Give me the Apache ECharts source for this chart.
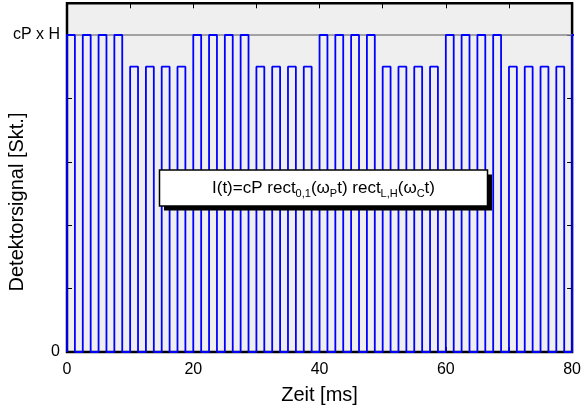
<!DOCTYPE html>
<html>
<head>
<meta charset="utf-8">
<script src="https://cdn.jsdelivr.net/npm/echarts@6/dist/echarts.min.js"></script>
<style>
  html, body { margin: 0; padding: 0; background: #fff; }
  #chart { width: 584px; height: 416px; }
</style>
</head>
<body>
<div id="chart"></div>
<script>
// Start time of every light pulse [ms]
const pulseStart = [
  0, 2.5, 5, 7.5, 10, 12.5, 15, 17.5,
  20, 22.5, 25, 27.5, 30, 32.5, 35, 37.5,
  40, 42.5, 45, 47.5, 50, 52.5, 55, 57.5,
  60, 62.5, 65, 67.5, 70, 72.5, 75, 77.5,
  80
];
// Pulse height in units of cP x H (H = high level, L = low level of the carrier)
const pulseLevel = [
  1, 1, 1, 1, 0.9, 0.9, 0.9, 0.9,
  1, 1, 1, 1, 0.9, 0.9, 0.9, 0.9,
  1, 1, 1, 1, 0.9, 0.9, 0.9, 0.9,
  1, 1, 1, 1, 0.9, 0.9, 0.9, 0.9,
  1
];
// Pulse duration [ms]
const pulseWidth = 1.25;
// Reference level cP x H
const refLevel = 1;
// Tick labels
const xTickLabels = { 0: '0', 20: '20', 40: '40', 60: '60', 80: '80' };
const yTickLabels = { 0: '0', 1: 'cP x H' };

// Rectangular signal trace built from the pulse list
const trace = [];
pulseStart.forEach((t0, i) => {
  const lvl = pulseLevel[i];
  trace.push([t0, 0], [t0, lvl], [t0 + pulseWidth, lvl], [t0 + pulseWidth, 0]);
});

const font = '"Liberation Sans", Arial, sans-serif';
const chart = echarts.init(document.getElementById('chart'), null, { renderer: 'canvas' });

// ticks pointing into the plot area
const tickIn = () => ({ show: true, inside: true, length: 5, lineStyle: { color: '#000', width: 1 } });

chart.setOption({
  animation: false,
  grid: {
    left: 67, right: 3, top: 3.3, bottom: 64,
    show: true, backgroundColor: '#efefef',
    borderColor: '#000', borderWidth: 2.5
  },
  xAxis: [
    {
      type: 'value', position: 'bottom', min: 0, max: 80, interval: 10,
      axisLine: { show: false, onZero: false }, splitLine: { show: false },
      axisTick: tickIn(),
      axisLabel: {
        margin: 10, color: '#000', fontSize: 16, fontFamily: font,
        formatter: v => (xTickLabels[v] !== undefined ? xTickLabels[v] : '')
      },
      name: 'Zeit [ms]', nameLocation: 'middle', nameGap: 33,
      nameTextStyle: { color: '#000', fontSize: 20, fontFamily: font }
    },
    {
      type: 'value', position: 'top', min: 0, max: 80, interval: 10,
      axisLine: { show: false, onZero: false }, splitLine: { show: false },
      axisTick: tickIn(), axisLabel: { show: false }
    }
  ],
  yAxis: [
    {
      type: 'value', position: 'left', min: 0, max: 1.1, interval: 0.2,
      axisLine: { show: false, onZero: false }, splitLine: { show: false },
      axisTick: tickIn(),
      axisLabel: {
        margin: 7, color: '#000', fontSize: 16, fontFamily: font,
        formatter: v => {
          const k = Math.round(v * 10) / 10;
          return yTickLabels[k] !== undefined && Math.abs(v - k) < 1e-9 ? yTickLabels[k] : '';
        }
      }
    },
    {
      type: 'value', position: 'right', min: 0, max: 1.1, interval: 0.2,
      axisLine: { show: false, onZero: false }, splitLine: { show: false },
      axisTick: tickIn(), axisLabel: { show: false }
    }
  ],
  series: [
    {
      type: 'line',
      data: trace,
      showSymbol: false,
      clip: true,
      lineStyle: { color: '#0000ff', width: 1.8 },
      markLine: {
        silent: true, symbol: 'none', label: { show: false },
        lineStyle: { color: '#888', width: 1.5, type: 'solid' },
        data: [{ yAxis: refLevel }],
        z: 1
      },
      z: 3
    }
  ],
  graphic: [
    {
      type: 'text', x: 17, y: 202, rotation: Math.PI / 2, z: 100,
      style: {
        text: 'Detektorsignal [Skt.]', fill: '#000',
        font: '20px ' + font, align: 'center', verticalAlign: 'middle'
      }
    },
    { type: 'rect', z: 100, shape: { x: 164, y: 174.5, width: 328, height: 36 }, style: { fill: '#000' } },
    { type: 'rect', z: 101, shape: { x: 159.5, y: 170, width: 328, height: 36 }, style: { fill: '#fff', stroke: '#000', lineWidth: 1.5 } },
    {
      type: 'text', z: 102, x: 323.5, y: 188.5,
      style: {
        text: '{m|I(t)=cP rect}{s|0,1}{m|(ω}{s|P}{m|t) rect}{s|L,H}{m|(ω}{s|C}{m|t)}',
        align: 'center', verticalAlign: 'middle',
        rich: {
          m: { font: '17px ' + font, fill: '#000', lineHeight: 22 },
          s: { font: '11px ' + font, fill: '#000', lineHeight: 12, verticalAlign: 'bottom' }
        }
      }
    }
  ]
});
</script>
</body>
</html>
